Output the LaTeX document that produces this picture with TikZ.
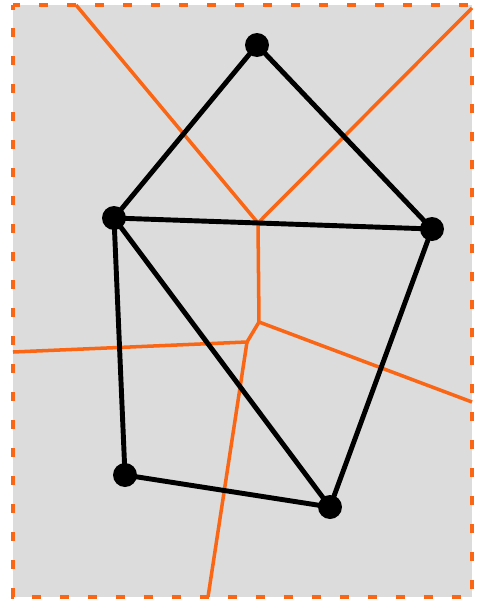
\documentclass[tikz,border=0pt]{standalone}
\usepackage{xcolor}
\usepackage{tikz}
\usetikzlibrary{calc}

\definecolor{vorange}{RGB}{250,102,20}
\definecolor{bggray}{RGB}{220,220,220}

\begin{document}
\begin{tikzpicture}[x=0.02cm,y=-0.02cm,
    site/.style={circle,fill=black,inner sep=0pt,minimum size=0.48cm},
    delaunay/.style={black,line width=2.8pt},
    voronoi/.style={vorange,line width=2pt}]
  \useasboundingbox (0,0) rectangle (479,599);
  % background with dashed frame
  \fill[bggray] (13,5) rectangle (472,597);
  \draw[vorange,line width=2.4pt,dash pattern=on 0.19cm off 0.37cm,dash phase=0.1cm]
    (13,5) rectangle (472,597);
  % voronoi vertices and free ends on the frame
  \coordinate (v1) at (258,223);
  \coordinate (v2) at (259,322);
  \coordinate (v3) at (247,342);
  \coordinate (t1) at (76,5);
  \coordinate (t2) at (472,8);
  \coordinate (r1) at (472,402);
  \coordinate (l1) at (13,352);
  \coordinate (b1) at (208,597);
  % voronoi edges
  \draw[voronoi] (t1) -- (v1) -- (t2);
  \draw[voronoi] (v1) -- (v2) -- (r1);
  \draw[voronoi] (v2) -- (v3) -- (l1);
  \draw[voronoi] (v3) -- (b1);
  % sites
  \node[site] (a) at (257,45) {};
  \node[site] (b) at (114,218) {};
  \node[site] (c) at (432,229) {};
  \node[site] (d) at (125,475) {};
  \node[site] (e) at (330,507) {};
  % delaunay edges
  \draw[delaunay] (a.center) -- (b.center) -- (c.center) -- cycle;
  \draw[delaunay] (b.center) -- (d.center) -- (e.center) -- (c.center);
  \draw[delaunay] (b.center) -- (e.center);
\end{tikzpicture}
\end{document}
